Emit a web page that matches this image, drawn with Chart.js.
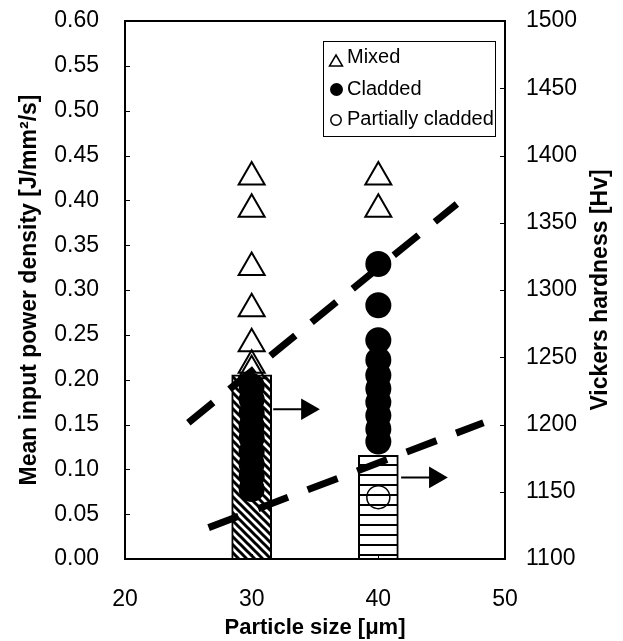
<!DOCTYPE html>
<html>
<head>
<meta charset="utf-8">
<script src="https://cdn.jsdelivr.net/npm/chart.js@4.4.0/dist/chart.umd.min.js"></script>
<style>
	body { margin: 0; background: #fff; }
	#wrap { width: 623px; height: 641px; }
</style>
</head>
<body>
<div id="wrap"><canvas id="chart-1"></canvas></div>
<script>
// values
const mixed30 = [0.426, 0.390, 0.325, 0.279, 0.240, 0.216, 0.210];
const mixed40 = [0.426, 0.390];
const cladded30 = [0.193, 0.178, 0.163, 0.149, 0.135, 0.120, 0.106, 0.092, 0.078];
const cladded40 = [0.329, 0.283, 0.244, 0.222, 0.205, 0.190, 0.175, 0.160, 0.145, 0.131];
const partial40 = [0.069];
const barSizes = [30, 40];
const hardness = [1237, 1177];
const arrowY = [0.167, 0.091];
const arrowFrom = [31.7, 41.8];
const arrowTo = [34.4, 44.5];
const upperTrend = [[25.0, 0.152], [46.2, 0.396]];
const lowerTrend = [[26.6, 0.035], [48.3, 0.152]];
const legendLabels = ["Mixed", "Cladded", "Partially cladded"];

const FONT = 'Arial, "Liberation Sans", sans-serif';
Chart.defaults.font.family = FONT;
Chart.defaults.color = "#000";

function makePattern(kind) {
	const c = document.createElement("canvas");
	const s = kind === "diag" ? 8 : 10;
	c.width = s; c.height = s;
	const g = c.getContext("2d");
	g.fillStyle = "#fff";
	g.fillRect(0, 0, s, s);
	if (kind === "diag") {
		g.strokeStyle = "#000";
		g.lineWidth = 3;
		for (let k = -s; k <= s; k += s) {
			g.beginPath();
			g.moveTo(-2, k - 2);
			g.lineTo(s + 2, s + k + 2);
			g.stroke();
		}
	} else {
		g.fillStyle = "#000";
		g.fillRect(0, 4, s, 2);
	}
	return g.createPattern(c, "repeat");
}

const pts = (x, arr) => arr.map(v => ({x: x, y: v}));

const fitY = w => s => { s.width = w; s.paddingTop = 0; s.paddingBottom = 0; };

const frame = {
	id: "frame",
	afterDatasetsDraw(chart) {
		const {ctx, chartArea: a, scales} = chart;
		ctx.save();
		ctx.strokeStyle = "#000";
		ctx.lineWidth = 1;
		scales.y.ticks.forEach(t => {
			const py = Math.round(scales.y.getPixelForValue(t.value)) + 0.5;
			ctx.beginPath(); ctx.moveTo(a.left, py); ctx.lineTo(a.left + 5, py); ctx.stroke();
		});
		scales.y1.ticks.forEach(t => {
			const py = Math.round(scales.y1.getPixelForValue(t.value)) + 0.5;
			ctx.beginPath(); ctx.moveTo(a.right - 5, py); ctx.lineTo(a.right, py); ctx.stroke();
		});
		scales.x.ticks.forEach(t => {
			const px = Math.round(scales.x.getPixelForValue(t.value)) + 0.5;
			ctx.beginPath(); ctx.moveTo(px, a.bottom - 5); ctx.lineTo(px, a.bottom); ctx.stroke();
		});
		ctx.lineWidth = 2;
		ctx.strokeRect(a.left, a.top, a.right - a.left, a.bottom - a.top);

		// legend box
		ctx.lineWidth = 1;
		ctx.strokeRect(323.5, 41.5, 172, 95);
		ctx.font = "20px " + FONT;
		ctx.fillStyle = "#000";
		ctx.textAlign = "left";
		ctx.textBaseline = "alphabetic";
		const base = [63, 95, 125];
		legendLabels.forEach((lab, i) => ctx.fillText(lab, 347, base[i]));
		ctx.lineWidth = 1.5;
		ctx.beginPath();
		ctx.moveTo(336, 55); ctx.lineTo(342.5, 66); ctx.lineTo(329.5, 66); ctx.closePath();
		ctx.stroke();
		ctx.beginPath(); ctx.arc(336.5, 89.5, 6.5, 0, Math.PI * 2); ctx.fill();
		ctx.beginPath(); ctx.arc(336, 120, 5.2, 0, Math.PI * 2); ctx.stroke();

		// right axis title, reading bottom to top
		const t = scales.y1.options.title;
		ctx.font = "bold 23px " + FONT;
		ctx.textAlign = "center";
		ctx.textBaseline = "middle";
		ctx.translate(601, (a.top + a.bottom) / 2);
		ctx.rotate(-Math.PI / 2);
		ctx.fillText(t.text, 0, 0);
		ctx.restore();
	}
};

new Chart("chart-1", {
	type: "scatter",
	data: {
		datasets: [
			{label: legendLabels[0], data: pts(30, mixed30).concat(pts(40, mixed40)), pointStyle: "triangle",
				pointRadius: 15, borderWidth: 2, borderColor: "#000", backgroundColor: "rgba(0,0,0,0)", order: 1},
			{label: legendLabels[1], data: pts(30, cladded30).concat(pts(40, cladded40)), pointStyle: "circle",
				pointRadius: 13, borderWidth: 0, borderColor: "#000", backgroundColor: "#000", order: 1},
			{label: legendLabels[2], data: pts(40, partial40), pointStyle: "circle",
				pointRadius: 11.5, borderWidth: 1.5, borderColor: "#000", backgroundColor: "rgba(0,0,0,0)", order: 1},
			{type: "line", data: upperTrend.map(p => ({x: p[0], y: p[1]})), borderColor: "#000", borderWidth: 7,
				borderDash: [32, 21], borderCapStyle: "butt", pointRadius: 0, order: 2},
			{type: "line", data: lowerTrend.map(p => ({x: p[0], y: p[1]})), borderColor: "#000", borderWidth: 7,
				borderDash: [32, 21], borderCapStyle: "butt", pointRadius: 0, order: 2},
			...arrowY.map((v, i) => ({type: "line", data: [{x: arrowFrom[i], y: v}, {x: arrowTo[i], y: v}],
				borderColor: "#000", borderWidth: 2, pointRadius: [0, 12.5], pointStyle: "triangle", pointRotation: 90,
				pointBackgroundColor: "#000", pointBorderWidth: 0, order: 3})),
			{type: "bar", yAxisID: "y1", data: barSizes.map((x, i) => ({x: x, y: hardness[i]})),
				backgroundColor: [makePattern("diag"), makePattern("lines")], borderColor: "#000", borderWidth: 2,
				borderSkipped: false, barThickness: 40, grouped: false, order: 10}
		]
	},
	options: {
		responsive: true,
		maintainAspectRatio: false,
		animation: false,
		layout: {padding: {top: 21, left: 0, right: 0, bottom: 0}},
		plugins: {legend: {display: false}, tooltip: {enabled: false}},
		scales: {
			x: {
				type: "linear", min: 20, max: 50, offset: false,
				ticks: {stepSize: 10, font: {size: 23}, padding: 19},
				grid: {display: false}, border: {display: false},
				title: {display: true, text: "Particle size [μm]", font: {size: 22, weight: "bold"}, padding: 0},
				afterFit: s => { s.height = 82; s.paddingLeft = 0; s.paddingRight = 0; }
			},
			y: {
				position: "left", min: 0, max: 0.6,
				ticks: {stepSize: 0.05, font: {size: 23}, padding: 18, callback: v => v.toFixed(2)},
				grid: {display: false}, border: {display: false},
				title: {display: true, text: "Mean input power density [J/mm²/s]", font: {size: 23, weight: "bold"}, padding: {top: 16, bottom: 0}},
				afterFit: fitY(125)
			},
			y1: {
				position: "right", min: 1100, max: 1500,
				ticks: {stepSize: 50, font: {size: 23}, padding: 13, callback: v => String(v)},
				grid: {display: false}, border: {display: false},
				title: {display: false, text: "Vickers hardness [Hv]"},
				afterFit: fitY(118)
			}
		}
	},
	plugins: [frame]
});
</script>
</body>
</html>
